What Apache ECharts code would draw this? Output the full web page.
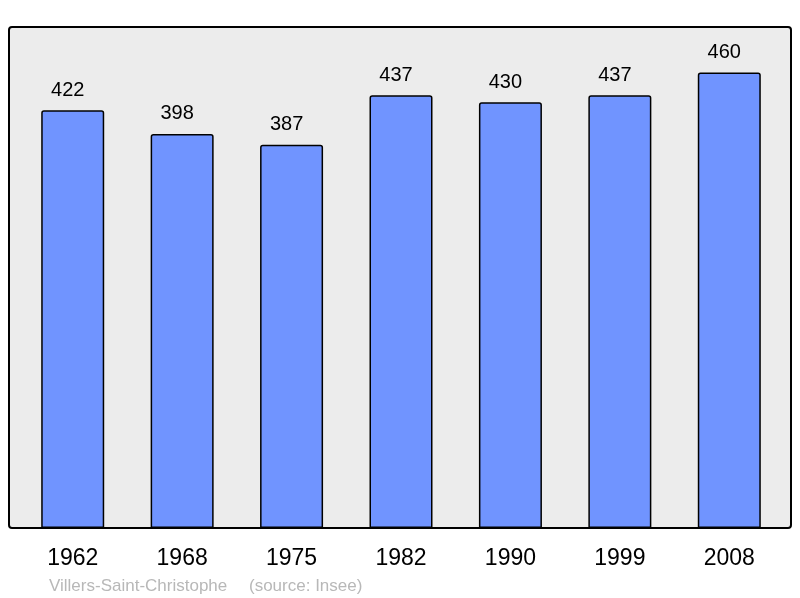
<!DOCTYPE html>
<html>
<head>
<meta charset="utf-8">
<script src="https://cdn.jsdelivr.net/npm/echarts@6/dist/echarts.min.js"></script>
<style>
  html, body { margin: 0; padding: 0; background: #fff; }
  #chart { width: 800px; height: 598px; }
</style>
</head>
<body>
<div id="chart"></div>
<script>
var years = ['1962', '1968', '1975', '1982', '1990', '1999', '2008'];
var population = [422, 398, 387, 437, 430, 437, 460];
var commune = 'Villers-Saint-Christophe';
var source = '(source: Insee)';

var chart = echarts.init(document.getElementById('chart'));
var options = {
  animation: false,
  textStyle: { fontFamily: 'Liberation Sans, Arial, sans-serif' },
  grid: { left: 18, right: 16, top: 27, bottom: 70 },
  graphic: [
    {
      type: 'rect',
      z: -10,
      shape: { x: 9, y: 27, width: 782, height: 501, r: 3 },
      style: { fill: '#ececec', stroke: '#000', lineWidth: 2 }
    },
    {
      type: 'text',
      left: 49,
      top: 578,
      style: { text: commune, fill: '#b8b8b8', font: '17px Liberation Sans, Arial, sans-serif' }
    },
    {
      type: 'text',
      left: 249,
      top: 578,
      style: { text: source, fill: '#b8b8b8', font: '17px Liberation Sans, Arial, sans-serif' }
    }
  ],
  xAxis: {
    type: 'category',
    data: years,
    axisLine: { show: false },
    axisTick: { show: false },
    axisLabel: { color: '#000', fontSize: 23, margin: 19 }
  },
  yAxis: {
    type: 'value',
    min: 0,
    max: 506,
    show: false,
    splitLine: { show: false }
  },
  series: [
    {
      type: 'bar',
      data: population,
      barWidth: 63,
      itemStyle: { color: '#7094ff', borderColor: '#000', borderWidth: 1.5, borderRadius: [2, 2, 0, 0] },
      label: { show: true, position: 'top', distance: 10, offset: [-5, 0], color: '#000', fontSize: 20 }
    }
  ]
};
chart.setOption(options);
</script>
</body>
</html>
